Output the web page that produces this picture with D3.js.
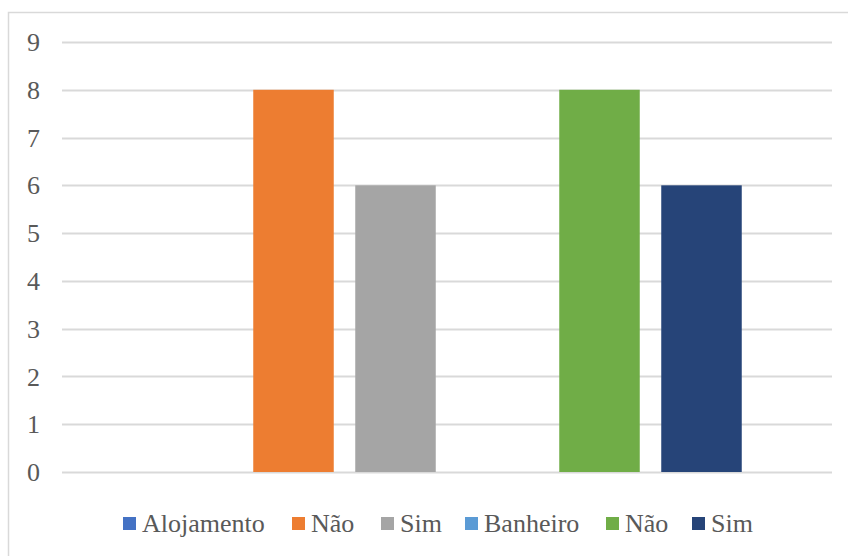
<!DOCTYPE html>
<html><head><meta charset="utf-8">
<script src="https://cdn.jsdelivr.net/npm/d3@7"></script>
<style>body{margin:0;background:#fff}svg{display:block}</style>
</head><body>
<svg id="c" width="848" height="556"></svg>
<script>
const categories = ["Grupo"];
const seriesNames = ["Alojamento", "Não", "Sim", "Banheiro", "Não", "Sim"];
const seriesValues = [0, 8, 6, 0, 8, 6];
const seriesColors = ["#4472C4", "#ED7D31", "#A5A5A5", "#5B9BD5", "#70AD47", "#264478"];
const yTicks = [0, 1, 2, 3, 4, 5, 6, 7, 8, 9];

(function () {
// pick an installed serif font
const cv = document.createElement("canvas").getContext("2d");
const probe = "Alojamento Banheiro 0123456789 mmmwwwiii";
function w(f) { cv.font = "40px " + f; return cv.measureText(probe).width; }
const candidates = ["Liberation Serif", "Times New Roman", "Tinos", "DejaVu Serif", "Noto Serif", "FreeSerif"];
let font = "serif";
for (const c of candidates) {
  const a = w(`"${c}", monospace`), b = w(`"${c}", sans-serif`);
  if (Math.abs(a - b) < 0.01 && Math.abs(a - w("monospace")) > 0.01) { font = `"${c}", serif`; break; }
}

const svg = d3.select("#c");
svg.append("rect").attr("x", 8.5).attr("y", 12.5).attr("width", 900).attr("height", 600)
  .attr("fill", "#fff").attr("stroke", "#d9d9d9").attr("stroke-width", 1.5);

const pLeft = 62, pRight = 831, pTop = 42, pBottom = 472;
const y = d3.scaleLinear().domain([0, 9]).range([pBottom, pTop]);
const x0 = d3.scaleBand().domain(categories).range([pLeft, pRight]).paddingInner(0).paddingOuter(0);
const idx = d3.range(seriesNames.length);
const groupW = 102 * 6;
const x1 = d3.scaleBand().domain(idx).range([0, groupW]).paddingInner(21.5 / 102).paddingOuter(21.5 / 204);

svg.append("g").selectAll("line").data(yTicks).join("line")
  .attr("x1", pLeft).attr("x2", pRight + 1)
  .attr("y1", d => Math.round(y(d)) + 0.5).attr("y2", d => Math.round(y(d)) + 0.5)
  .attr("stroke", "#d9d9d9").attr("stroke-width", 2);

svg.append("g").selectAll("text").data(yTicks).join("text")
  .attr("x", 40).attr("y", d => y(d)).attr("dy", "0.35em")
  .attr("text-anchor", "end").style("font-family", font).attr("font-size", 26)
  .attr("fill", "#595959").text(d => d);

const g = svg.append("g").attr("transform", `translate(${x0(categories[0]) + (x0.bandwidth() - groupW) / 2},0)`);
g.selectAll("rect").data(idx).join("rect")
  .attr("x", i => x1(i)).attr("width", x1.bandwidth())
  .attr("y", i => y(seriesValues[i])).attr("height", i => y(0) - y(seriesValues[i]))
  .attr("fill", i => seriesColors[i]);

const legendX = [123, 292, 381, 465, 606, 692];
const lg = svg.append("g");
idx.forEach(i => {
  lg.append("rect").attr("x", legendX[i]).attr("y", 517).attr("width", 13).attr("height", 13).attr("fill", seriesColors[i]);
  lg.append("text").attr("x", legendX[i] + 19).attr("y", 532).style("font-family", font).attr("font-size", 26)
    .attr("fill", "#595959").text(seriesNames[i]);
});
})();
</script>
</body></html>
